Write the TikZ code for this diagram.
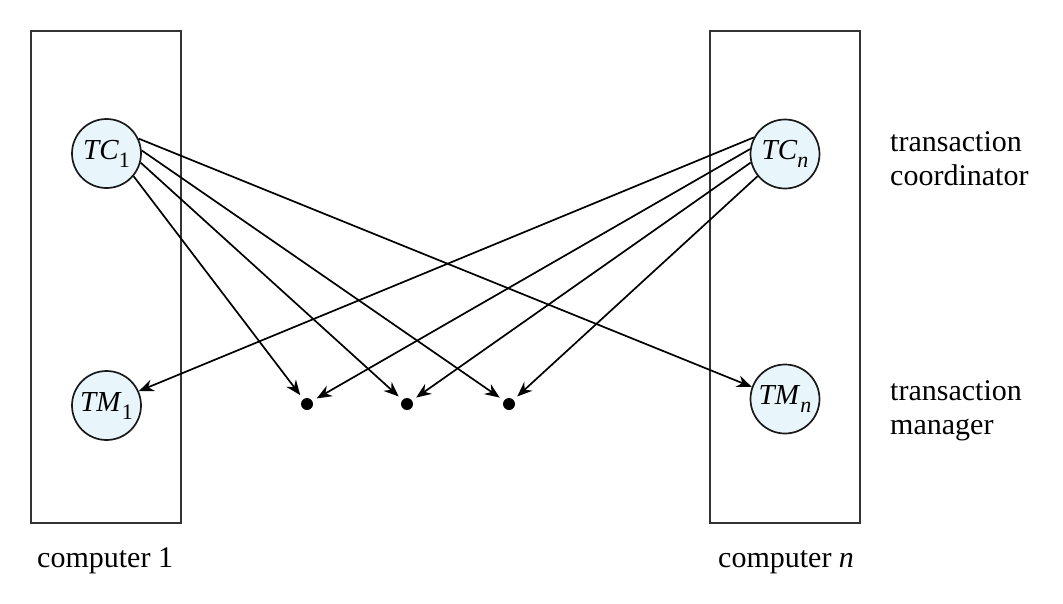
\documentclass[tikz,border=0pt]{standalone}
\usepackage{fontspec}
\setmainfont{Liberation Serif}
\usetikzlibrary{arrows.meta}
\definecolor{cfill}{RGB}{232,245,251}
\begin{document}
\begin{tikzpicture}[x=1pt,y=-1pt,
 box/.style={draw=black!80, line width=2pt},
 proc/.style={circle, draw=black!90, line width=1.7pt, fill=cfill, minimum size=69pt, inner sep=0pt, font=\fontsize{29}{32}\selectfont},
 dotnode/.style={circle, fill=black, minimum size=12pt, inner sep=0pt},
 arr/.style={line width=1.7pt, -{Stealth[length=15pt,width=12pt,inset=5pt]}},
 todot/.style={arr, shorten >=5pt},
 lbl/.style={anchor=base west, inner sep=0pt, font=\fontsize{30}{34}\selectfont}]
\useasboundingbox (0,0) rectangle (1063,603);
% computers
\draw[box] (31,31) rectangle (181,523);
\draw[box] (710,31) rectangle (860,523);
% processes
\node[proc] (TC1) at (106.5,153.5) {\textit{TC}\raisebox{-8pt}{\fontsize{22}{22}\selectfont 1}};
\node[proc] (TM1) at (106.5,405.5) {\textit{TM}\raisebox{-8pt}{\fontsize{22}{22}\selectfont 1}};
\node[proc] (TCn) at (785,154) {\textit{TC}\raisebox{-8pt}{\fontsize{22}{22}\selectfont\itshape n}};
\node[proc] (TMn) at (785,399) {\textit{TM}\raisebox{-8pt}{\fontsize{22}{22}\selectfont\itshape n}};
% dots
\node[dotnode] (d1) at (307,404) {};
\node[dotnode] (d2) at (407,404) {};
\node[dotnode] (d3) at (509,404) {};
% arrows from TC1
\draw[arr] (TC1.25) -- (TMn.160);
\draw[todot] (TC1.5) -- (d3);
\draw[todot] (TC1.-15) -- (d2);
\draw[todot] (TC1.-40) -- (d1);
% arrows from TCn
\draw[arr] (TCn.152) -- (TM1.24);
\draw[todot] (TCn.172) -- (d1);
\draw[todot] (TCn.194) -- (d2);
\draw[todot] (TCn.219) -- (d3);
% labels
\node[lbl] (tc1) at (890,151) {transaction};
\node[lbl] (tc2) at (890,185.5) {coordinator};
\node[lbl] (tm1) at (890,400) {transaction};
\node[lbl] (tm2) at (890,434.5) {manager};
\node[lbl] (c1) at (37,567) {computer 1};
\node[lbl] (cn) at (718,567) {computer \textit{n}};
\end{tikzpicture}
\end{document}
